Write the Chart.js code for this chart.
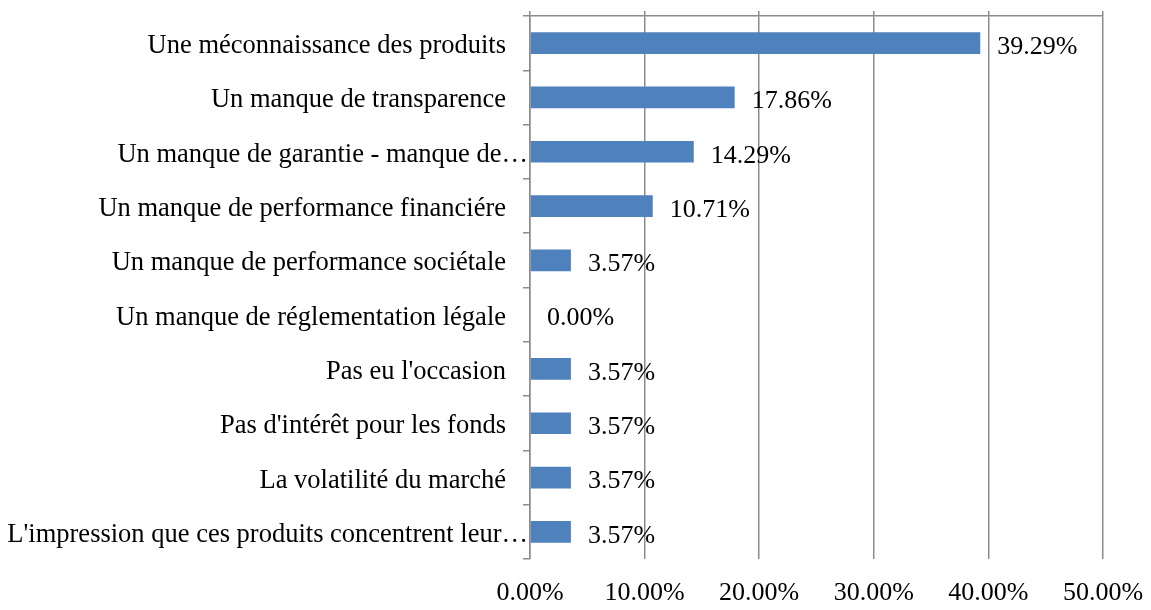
<!DOCTYPE html>
<html>
<head>
<meta charset="utf-8">
<script src="https://cdn.jsdelivr.net/npm/chart.js@4"></script>
<style>
  body { margin: 0; background: #fff; }
  #wrap { width: 1151px; height: 610px; }
</style>
</head>
<body>
<div id="wrap"><canvas id="barChart"></canvas></div>
<script>
const categories = [
    "Une méconnaissance des produits",
    "Un manque de transparence",
    "Un manque de garantie - manque de…",
    "Un manque de performance financiére",
    "Un manque de performance sociétale",
    "Un manque de réglementation légale",
    "Pas eu l'occasion",
    "Pas d'intérêt pour les fonds",
    "La volatilité du marché",
    "L'impression que ces produits concentrent leur…"
];
const values = [39.29, 17.86, 14.29, 10.71, 3.57, 0.00, 3.57, 3.57, 3.57, 3.57];
const xTicks = [0, 10, 20, 30, 40, 50];

const fontFamily = "'Liberation Serif', 'Times New Roman', serif";
const font = { family: fontFamily, size: 26 };
const gridColor = '#8c8c8c';

// value labels at the end of each bar + category labels (truncated ones run into the axis like the original)
const textLabels = {
    id: 'textLabels',
    afterDatasetsDraw(chart) {
        const ctx = chart.ctx;
        const meta = chart.getDatasetMeta(0);
        const yScale = chart.scales.y;
        ctx.save();
        ctx.fillStyle = '#000';
        ctx.textBaseline = 'middle';

        ctx.font = font.size + 'px ' + fontFamily;
        ctx.textAlign = 'left';
        meta.data.forEach(function (bar, i) {
            ctx.fillText(values[i].toFixed(2) + '%', bar.x + 17, bar.y + 4);
        });

        ctx.font = '26.5px ' + fontFamily;
        ctx.textAlign = 'right';
        categories.forEach(function (label, i) {
            const y = yScale.getPixelForTick(i);
            const right = label.endsWith('…') ? yScale.right - 2 : yScale.right - 24;
            ctx.fillText(label, right, y + 3);
        });
        ctx.restore();
    }
};

document.addEventListener("DOMContentLoaded", function () {
    new Chart(document.getElementById("barChart"), {
        type: 'bar',
        data: {
            labels: categories,
            datasets: [{
                data: values,
                backgroundColor: '#4F81BD',
                categoryPercentage: 1,
                barPercentage: 0.4
            }]
        },
        options: {
            indexAxis: 'y',
            responsive: true,
            maintainAspectRatio: false,
            animation: false,
            layout: { padding: { top: 11, right: 48, bottom: 6, left: 0 } },
            plugins: { legend: { display: false }, tooltip: { enabled: false } },
            scales: {
                x: {
                    position: 'top',
                    min: 0, max: 50,
                    afterBuildTicks(axis) { axis.ticks = xTicks.map(v => ({ value: v })); },
                    afterFit(axis) { axis.paddingLeft = 0; axis.paddingRight = 0; },
                    ticks: { display: false },
                    grid: { color: gridColor, lineWidth: 1.5, tickLength: 5 },
                    border: { display: true, color: gridColor, width: 1.5 }
                },
                x2: {
                    position: 'bottom',
                    min: 0, max: 50,
                    afterBuildTicks(axis) { axis.ticks = xTicks.map(v => ({ value: v })); },
                    afterFit(axis) { axis.height = 45; axis.paddingLeft = 0; axis.paddingRight = 0; },
                    ticks: {
                        color: '#000', font: font, padding: 11, maxRotation: 0,
                        callback: v => v.toFixed(2) + '%'
                    },
                    grid: { display: false },
                    border: { display: false }
                },
                y: {
                    afterFit(axis) { axis.width = 530; axis.paddingTop = 0; axis.paddingBottom = 0; },
                    ticks: { display: false },
                    grid: { drawOnChartArea: false, color: gridColor, lineWidth: 1.5, tickLength: 7, offset: true },
                    border: { display: true, color: gridColor, width: 1.5 }
                }
            }
        },
        plugins: [textLabels]
    });
});
</script>
</body>
</html>
